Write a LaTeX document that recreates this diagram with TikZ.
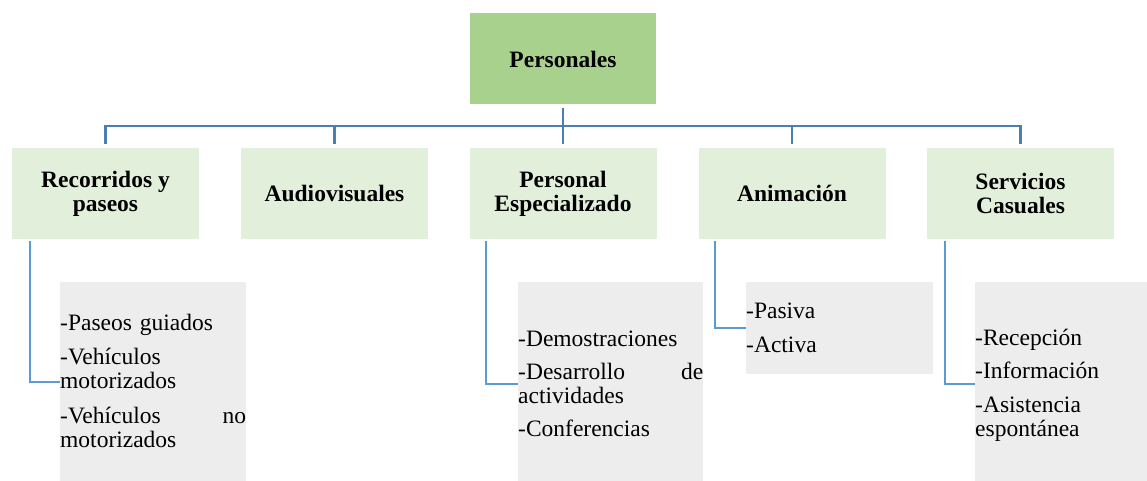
\documentclass[tikz,border=0pt]{standalone}
\usepackage{fontspec}
\setmainfont{Liberation Serif}
\definecolor{topgreen}{HTML}{A9D18E}
\definecolor{hgreen}{HTML}{E2EFDA}
\definecolor{lgray}{HTML}{EDEDED}
\definecolor{barblue}{HTML}{4A7EB5}
\definecolor{subblue}{HTML}{5B9BD5}
\begin{document}
\begin{tikzpicture}[x=1pt,y=-1pt,
  box/.style={draw=none, inner sep=0pt, align=center, minimum width=187pt, minimum height=91pt,
    font=\fontsize{23.5}{24}\selectfont\bfseries},
  topbox/.style={box, fill=topgreen},
  hdr/.style={box, fill=hgreen},
  graybox/.style={draw=none, fill=lgray, inner sep=0pt},
  items/.style={inner sep=0pt, anchor=base west, align=left, font=\fontsize{23.5}{24}\selectfont},
  conn/.style={draw=barblue, line width=2.8pt},
  subconn/.style={draw=subblue, line width=2.2pt}]
\useasboundingbox (0,0) rectangle (1147,481);

\node[topbox, minimum width=186pt] (P) at (563,59) {Personales};

\node[hdr] (h1) at (105.5,193.5) {Recorridos y\\paseos};
\node[hdr] (h2) at (334.5,193.5) {Audiovisuales};
\node[hdr] (h3) at (563,193.5) {Personal\\Especializado};
\node[hdr] (h4) at (792,193.5) {Animación};
\node[hdr] (h5) at (1020.5,193.5) {Servicios\\Casuales};

\node[graybox, minimum width=186pt, minimum height=199pt] (g1) at (153,381.5) {};
\node[graybox, minimum width=185pt, minimum height=199pt] (g3) at (610.5,381.5) {};
\node[graybox, minimum width=187pt, minimum height=92pt] (g4) at (839.5,328) {};
\node[graybox, minimum width=172pt, minimum height=199pt] (g5) at (1061,381.5) {};

\node[items, text width=186pt] (t1) at (60,330)
  {-Paseos guiados\\[10pt]-Vehículos\\motorizados\\[11pt]-Vehículos\hfill no\\motorizados};
\node[items, text width=185pt] (t3) at (518,346)
  {-Demostraciones\\[9pt]-Desarrollo\hfill de\\actividades\\[9pt]-Conferencias};
\node[items, text width=180pt] (t4) at (746,318)
  {-Pasiva\\[10pt]-Activa};
\node[items, text width=170pt] (t5) at (975,345)
  {-Recepción\\[9pt]-Información\\[10pt]-Asistencia\\espontánea};

\coordinate (bar) at (0,126);
\draw[conn] ([yshift=-3pt]P.south) -- (P.south |- bar);
\draw[conn, line cap=rect] (h1.north |- bar) -- (h5.north |- bar);
\foreach \i in {1,...,5}
  \draw[conn] (h\i.north |- bar) -- ([yshift=4pt]h\i.north);

\draw[subconn] ([xshift=18pt,yshift=-2pt]h1.south west) |- (g1.west |- 0,382);
\draw[subconn] ([xshift=17pt,yshift=-2pt]h3.south west) |- (g3.west |- 0,384);
\draw[subconn] ([xshift=17pt,yshift=-2pt]h4.south west) |- (g4.west |- 0,328);
\draw[subconn] ([xshift=18pt,yshift=-2pt]h5.south west) |- (g5.west |- 0,384);
\end{tikzpicture}
\end{document}
